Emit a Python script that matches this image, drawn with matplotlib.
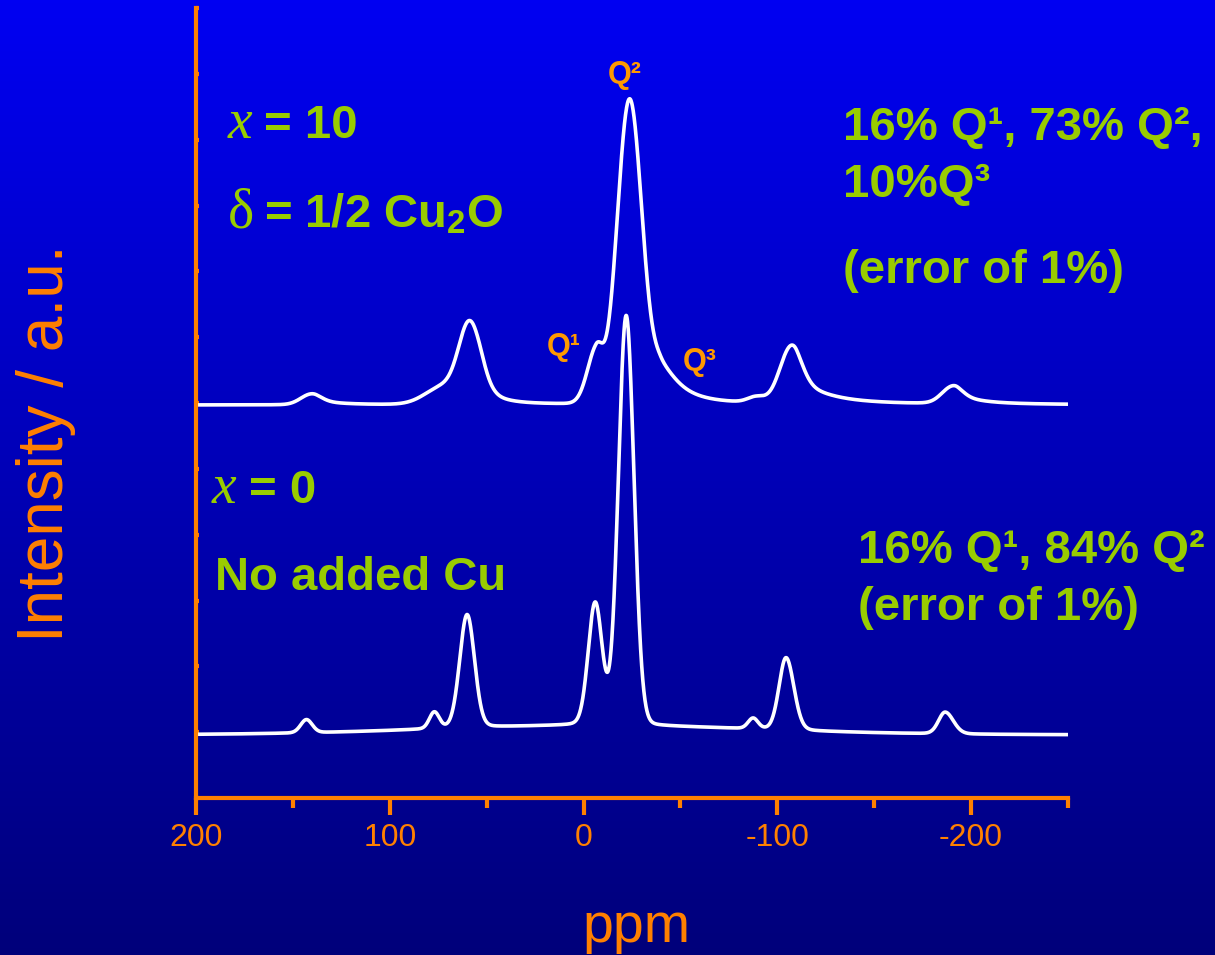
import numpy as np
import matplotlib.pyplot as plt

plt.rcParams['font.family'] = ['Liberation Sans', 'DejaVu Sans']
plt.rcParams['mathtext.fontset'] = 'custom'
plt.rcParams['mathtext.it'] = 'Liberation Serif:italic'
plt.rcParams['mathtext.rm'] = 'Liberation Serif'
plt.rcParams['mathtext.bf'] = 'Liberation Sans:bold'

ORANGE = '#ff8000'
Q_ORANGE = '#ff9900'
GREEN = '#99cc00'

# x = 0, no added Cu : peak table (ppm, height, fwhm high-ppm side, fwhm low-ppm side,
# lorentzian fraction)
x0_base = 0.96
x0_pos = [143, 77, 60.1, -6.0, -22.0, -87.5, -104.5, -186.6, -5]
x0_height = [0.2, 0.25, 1.72, 1.85, 6.22, 0.16, 1.1, 0.33, 0.14]
x0_fwhm_hi = [7, 6, 9, 8.5, 9.5, 6, 8.5, 8, 200]
x0_fwhm_lo = [7, 6, 9, 8.5, 9.5, 6, 9.5, 10, 200]
x0_eta = [0.1, 0.1, 0.1, 0.1, 0.05, 0.1, 0.1, 0.1, 0]

# x = 10, delta = 1/2 Cu2O (Q1, Q2, Q3 and their spinning sidebands)
x10_base = 5.97
x10_pos = [141.3, 138, 72, 58.8, 52, -6.5, -23.7, -40, -89, -106.3, -110, -189.5, -193]
x10_height = [0.13, 0.05, 0.27, 1.1, 0.18, 0.78, 4.56, 0.55, 0.08, 0.67, 0.28, 0.2, 0.1]
x10_fwhm_hi = [12, 10, 22, 13, 12, 11, 15, 14, 10, 13, 12, 12, 10]
x10_fwhm_lo = [12, 28, 22, 13, 22, 8, 15, 23, 10, 13, 36, 12, 28]
x10_eta = [0, 1, 0, 0, 1, 0, 0, 1, 0, 0, 1, 0, 1]

xtick_major = [200, 100, 0, -100, -200]
xtick_labels = ['200', '100', '0', '-100', '-200']
xtick_minor = [150, 50, -50, -150, -250]


def spectrum(ppm, base, pos, height, fwhm_hi, fwhm_lo, eta):
    y = np.full_like(ppm, base)
    for p, h, wh, wl, e in zip(pos, height, fwhm_hi, fwhm_lo, eta):
        w = np.where(ppm >= p, wh, wl)
        d = (ppm - p) / w
        gauss = np.exp(-4 * np.log(2) * d**2)
        lor = 1 / (1 + 4 * d**2)
        y += h * ((1 - e) * gauss + e * lor)
    return y


W, H = 1215, 955


def px(x, y):
    return x / W, 1 - y / H


fig = plt.figure(figsize=(W / 100, H / 100), dpi=100)

# blue gradient background
bg = fig.add_axes([0, 0, 1, 1], zorder=-1)
blue = np.linspace(0.95, 0.48, 256)
grad = np.zeros((256, 1, 3))
grad[:, 0, 2] = blue
bg.imshow(grad, aspect='auto', extent=[0, 1, 0, 1])
bg.axis('off')

ax = fig.add_axes([196 / W, 1 - 798 / H, (1068 - 196) / W, (798 - 8) / H])
ax.patch.set_alpha(0)

ppm = np.linspace(200, -250, 4000)
y0 = spectrum(ppm, x0_base, x0_pos, x0_height, x0_fwhm_hi, x0_fwhm_lo, x0_eta)
y10 = spectrum(ppm, x10_base, x10_pos, x10_height, x10_fwhm_hi, x10_fwhm_lo, x10_eta)
ax.plot(ppm, y0, color='white', lw=2.6)
ax.plot(ppm, y10, color='white', lw=2.6)

ax.set_xlim(200, -250)
ax.set_ylim(0, 12)
for side in ['top', 'right']:
    ax.spines[side].set_visible(False)
for side in ['left', 'bottom']:
    ax.spines[side].set_color(ORANGE)
    ax.spines[side].set_linewidth(3)

ax.set_xticks(xtick_major)
ax.set_xticklabels(xtick_labels)
ax.set_xticks(xtick_minor, minor=True)
ax.tick_params(axis='x', which='major', length=12, width=3, color=ORANGE,
               labelcolor=ORANGE, labelsize=23, pad=6)
ax.tick_params(axis='x', which='minor', length=7, width=3, color=ORANGE)
ax.set_yticks(np.arange(0, 13))
ax.tick_params(axis='y', direction='in', length=2.5, width=3, color=ORANGE,
               labelleft=False)

fig.text(*px(636, 942), 'ppm', color=ORANGE, fontsize=40, ha='center', va='baseline')
fig.text(*px(63, 443), 'Intensity / a.u.', color=ORANGE, fontsize=46, rotation=90,
         rotation_mode='anchor', ha='center', va='baseline')

# sample labels
green = dict(color=GREEN, fontsize=34, fontweight='bold', va='baseline', ha='left')
serif = dict(color=GREEN, fontsize=40, family='Liberation Serif', va='baseline', ha='left')
fig.text(*px(228, 138), 'x', style='italic', **serif)
fig.text(*px(264, 138), '= 10', **green)
fig.text(*px(228, 228), 'δ', **serif)
fig.text(*px(264, 228), r'= 1/2 Cu$_\mathbf{2}$O', **green)
fig.text(*px(212, 503), 'x', style='italic', **serif)
fig.text(*px(249, 503), '= 0', **green)
fig.text(*px(215, 590), 'No added Cu', **green)
fig.text(*px(843, 140), '16% Q¹, 73% Q²,', **green)
fig.text(*px(843, 197), '10%Q³', **green)
fig.text(*px(843, 283), '(error of 1%)', **green)
fig.text(*px(858, 563), '16% Q¹, 84% Q²', **green)
fig.text(*px(858, 620), '(error of 1%)', **green)

# site labels
qlab = dict(color=Q_ORANGE, fontsize=22, fontweight='bold', va='baseline', ha='left')
fig.text(*px(608, 83), 'Q²', **qlab)
fig.text(*px(547, 355), 'Q¹', **qlab)
fig.text(*px(683, 370), 'Q³', **qlab)

fig.savefig('out.png', dpi=100)
